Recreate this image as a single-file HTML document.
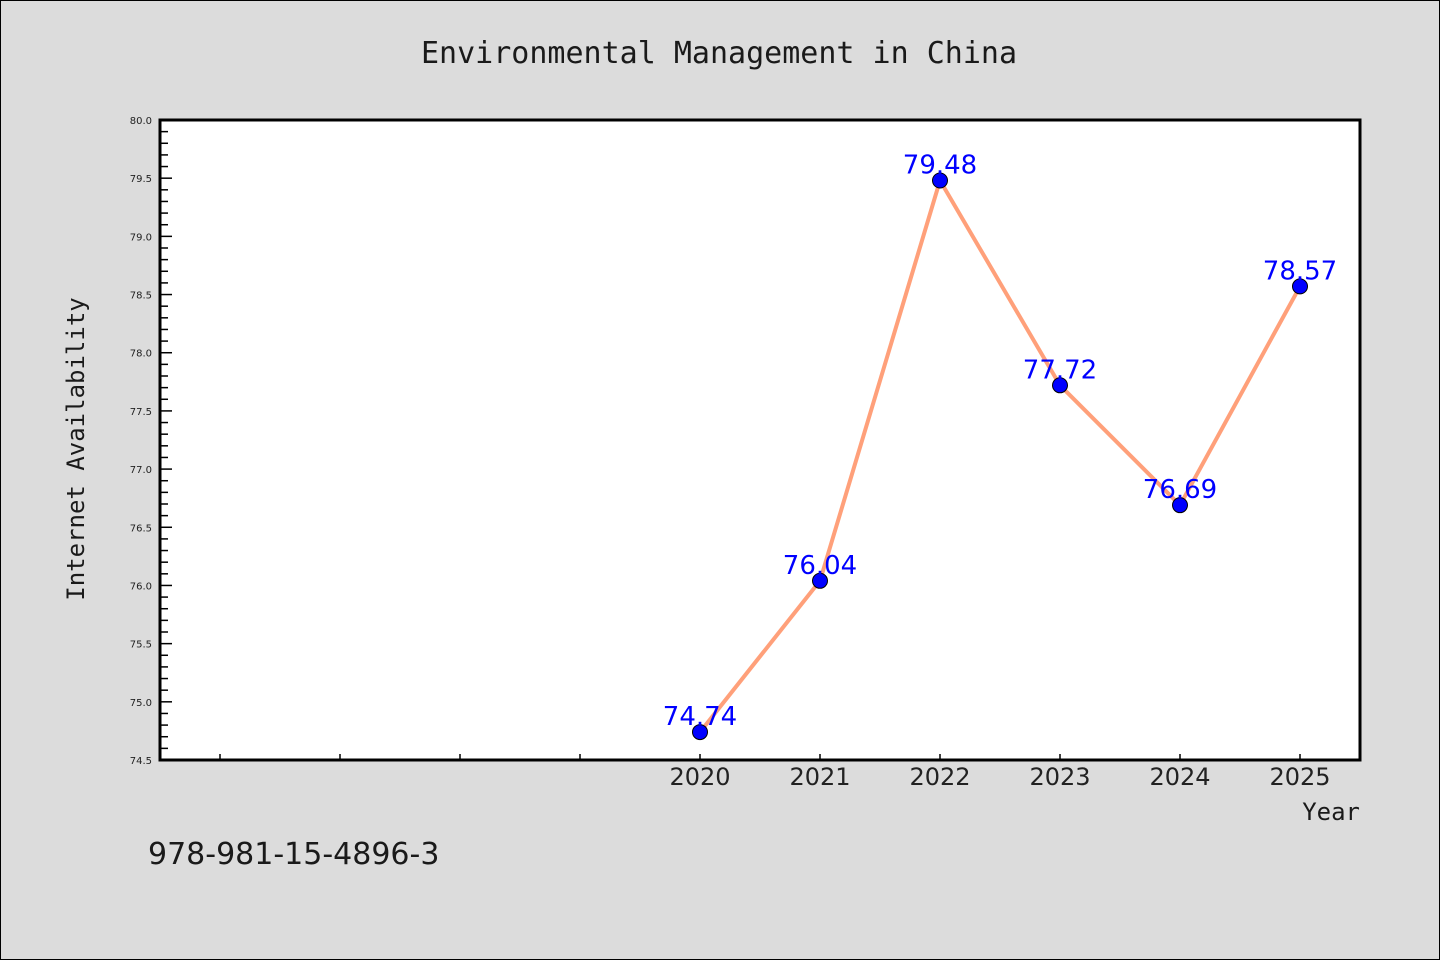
<!DOCTYPE html>
<html><head><meta charset="utf-8">
<style>
html,body{margin:0;padding:0;background:#dcdcdc;}
svg{display:block;}
.mono{font-family:"DejaVu Sans Mono","Liberation Mono",monospace;}
.sans{font-family:"DejaVu Sans","Liberation Sans",sans-serif;}
</style></head>
<body>
<svg id="chart" width="1440" height="960" viewBox="0 0 1440 960" xmlns="http://www.w3.org/2000/svg">
<rect x="0.5" y="0.5" width="1439" height="959" fill="#dcdcdc" stroke="#000" stroke-width="1"/>
<text x="719" y="63" text-anchor="middle" font-size="30" fill="#1a1a1a" class="mono">Environmental Management in China</text>
<rect x="160" y="120" width="1200" height="640" fill="#fff"/>
<g id="yaxis"></g>
<g id="xaxis"></g>
<g id="series"></g>
<rect x="160" y="120" width="1200" height="640" fill="none" stroke="#000" stroke-width="3"/>
<text transform="translate(84,449) rotate(-90)" text-anchor="middle" font-size="24" fill="#1a1a1a" class="mono">Internet Availability</text>
<text x="1360" y="820" text-anchor="end" font-size="24" fill="#1a1a1a" class="mono">Year</text>
<text x="148" y="864" font-size="30" fill="#1a1a1a" class="sans">978-981-15-4896-3</text>
</svg>
<script>
const categories = ["2016","2017","2018","2019","2020","2021","2022","2023","2024","2025"];
const labeledYears = ["2020","2021","2022","2023","2024","2025"];
const values = [null,null,null,null,74.74,76.04,79.48,77.72,76.69,78.57];
const yTicks = ["74.5","75.0","75.5","76.0","76.5","77.0","77.5","78.0","78.5","79.0","79.5","80.0"];
const yMin = 74.5, yMax = 80.0;
const NS = "http://www.w3.org/2000/svg";
const L=160,R=1360,T=120,B=760;
function xs(i){return L + (i+0.5)*(R-L)/categories.length;}
function ys(v){return B - (v-yMin)/(yMax-yMin)*(B-T);}
function mk(tag,attrs,parent){const e=document.createElementNS(NS,tag);for(const k in attrs)e.setAttribute(k,attrs[k]);parent.appendChild(e);return e;}
const ya=document.getElementById('yaxis'), xa=document.getElementById('xaxis'), sg=document.getElementById('series');
// minor y ticks
for(let v=yMin; v<=yMax+1e-9; v+=0.1){
  const y=ys(v);
  const major=Math.abs(v*2-Math.round(v*2))<1e-6;
  const t=mk('line',{x1:L,x2:L+(major?12:8),y1:y,y2:y,stroke:'#000','stroke-width':1.5},ya);
  
  
}
yTicks.forEach(s=>{
  const t=mk('text',{x:152,y:ys(parseFloat(s))+4,'text-anchor':'end','font-size':10,fill:'#222','class':'sans'},ya);
  t.textContent=s;
  
  
});
categories.forEach((c,i)=>{
  const x=xs(i);
  const t=mk('line',{x1:x,x2:x,y1:B,y2:B-6,stroke:'#000','stroke-width':1.5},xa);
  
  
  if(labeledYears.includes(c)){
    const l=mk('text',{x:x,y:785,'text-anchor':'middle','font-size':24,fill:'#222','class':'sans'},xa);
    l.textContent=c;
    
    
  }
});
const pts=[];values.forEach((v,i)=>{if(v!==null)pts.push([xs(i),ys(v),v]);});
const pl=mk('polyline',{points:pts.map(p=>p[0]+','+p[1]).join(' '),fill:'none',stroke:'#ffa07a','stroke-width':4,'stroke-linejoin':'round'},sg);


pts.forEach(p=>{
  const c=mk('circle',{cx:p[0],cy:p[1],r:7.5,fill:'#0000ff',stroke:'#000','stroke-width':1},sg);
  
  
  const t=mk('text',{x:p[0],y:p[1]-7,'text-anchor':'middle','font-size':26,fill:'#0000ff','class':'sans'},sg);
  t.textContent=p[2].toFixed(2);
  
  
});
</script>
</body></html>
